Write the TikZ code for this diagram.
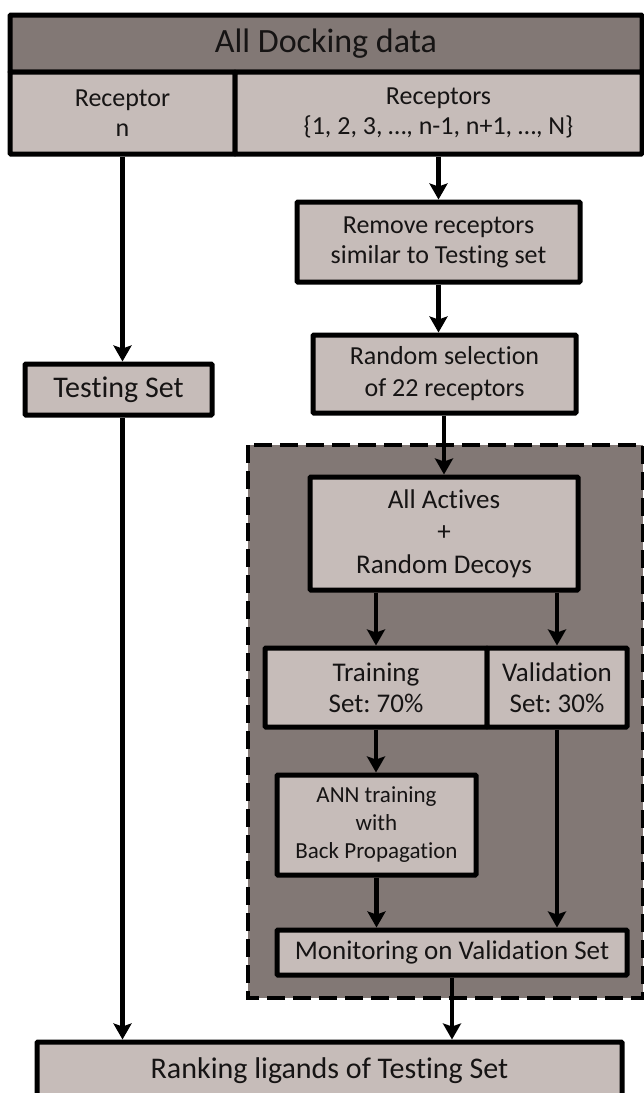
\documentclass[tikz,border=0pt]{standalone}
\usepackage{fontspec}
\setmainfont{Carlito}[Ligatures=NoCommon]
\frenchspacing
\usetikzlibrary{arrows.meta}
\definecolor{darkfill}{RGB}{130,120,117}
\definecolor{lightfill}{RGB}{198,188,185}
\definecolor{txt}{RGB}{22,20,20}
\tikzset{
  box/.style={draw=black,fill=lightfill,line width=5pt,text=txt,align=center,
    inner sep=0pt,rounded corners=1pt,font=\fontsize{27}{31}\selectfont},
  arr/.style={line width=4.5pt,-{Stealth[length=16pt,width=18pt,inset=3pt]}},
}
\begin{document}
\begin{tikzpicture}[x=1pt,y=-1pt]
\useasboundingbox (0,0) rectangle (644,1093);
%Фон блока обучения
\draw[fill=darkfill,line width=4pt,dash pattern=on 18pt off 8pt]
(248,445) rectangle (643,998);
%Таблица данных
\node[box,fill=darkfill,minimum width=632pt,minimum height=57pt,
  font=\fontsize{34}{38}\selectfont] (all) at (326,43.5) {All Docking data};
\node[box,minimum width=225pt,minimum height=82pt,
  font=\fontsize{26}{30}\selectfont] (recn) at (122.5,113) {Receptor\\n};
\node[box,minimum width=407pt,minimum height=82pt,
  font=\fontsize{26}{30}\selectfont] (recall) at (438.5,113)
  {Receptors\\\{1, 2, 3, \dots, n-1, n+1, \dots, N\}};
%Блоки
\node[box,minimum width=283pt,minimum height=80pt,
  font=\fontsize{26}{30}\selectfont] (remove) at (438.5,242)
  {Remove receptors\\similar to Testing set};
\node[box,minimum width=263pt,minimum height=78pt,
  font=\fontsize{26}{32}\selectfont] (random) at (444.5,374)
  {Random selection\\of 22 receptors};
\node[box,minimum width=187pt,minimum height=51pt,
  font=\fontsize{30}{34}\selectfont] (testing) at (118.5,389.5) {Testing Set};
\node[box,minimum width=268pt,minimum height=113pt,
  font=\fontsize{27}{32.5}\selectfont] (actives) at (444,533.5)
  {All Actives\\+\\Random Decoys};
\node[box,minimum width=222pt,minimum height=79pt] (train) at (376,687.5)
  {Training\\Set: 70\%};
\node[box,minimum width=140pt,minimum height=79pt] (valid) at (557,687.5)
  {Validation\\Set: 30\%};
\node[box,minimum width=199pt,minimum height=100pt,
  font=\fontsize{23}{28}\selectfont] (ann) at (376.5,825)
  {ANN training\\with\\Back Propagation};
\node[box,minimum width=350pt,minimum height=45pt] (monit) at (452,952.5)
  {Monitoring on Validation Set};
\node[box,minimum width=585pt,minimum height=58pt,
  font=\fontsize{30}{34}\selectfont] (rank) at (329.5,1071)
  {Ranking ligands of Testing Set};
%Стрелки
\draw[arr] (recn.south) -- (recn.south |- testing.north);
\draw[arr] (recn.south |- testing.south) -- (recn.south |- rank.north);
\draw[arr] (recall.south) -- (remove.north);
\draw[arr] (remove.south) -- (remove.south |- random.north);
\draw[arr] (random.south -| actives.north) -- (actives.north);
\draw[arr] (actives.south -| train.north) -- (train.north);
\draw[arr] (actives.south -| valid.north) -- (valid.north);
\draw[arr] (train.south) -- (train.south |- ann.north);
\draw[arr] (ann.south) -- (ann.south |- monit.north);
\draw[arr] (valid.south) -- (valid.south |- monit.north);
\draw[arr] (monit.south) -- (monit.south |- rank.north);
\end{tikzpicture}
\end{document}
